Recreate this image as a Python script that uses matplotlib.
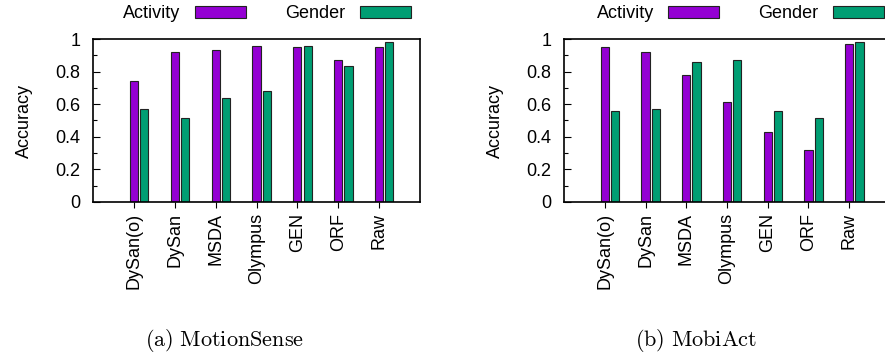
import numpy as np
import matplotlib
matplotlib.use("Agg")
import matplotlib.pyplot as plt

plt.rcParams['font.family'] = ['Liberation Sans', 'DejaVu Sans']
plt.rcParams['mathtext.fontset'] = 'cm'

methods = ["DySan(o)", "DySan", "MSDA", "Olympus", "GEN", "ORF", "Raw"]
series = ["Activity", "Gender"]

# MotionSense
ms_activity = [0.743, 0.920, 0.932, 0.959, 0.951, 0.871, 0.951]
ms_gender = [0.571, 0.515, 0.639, 0.682, 0.959, 0.832, 0.982]

# MobiAct
ma_activity = [0.951, 0.920, 0.778, 0.614, 0.429, 0.318, 0.971]
ma_gender = [0.561, 0.571, 0.860, 0.871, 0.561, 0.515, 0.984]

colors = ["#9400D3", "#009E73"]
fs = 13

fig = plt.figure(figsize=(8.85, 3.52), dpi=100)
ax1 = fig.add_axes([93 / 885, 150 / 352, 327 / 885, 163 / 352])
ax2 = fig.add_axes([564 / 885, 150 / 352, 326 / 885, 163 / 352])


def draw(ax, act, gen, legx):
    x = np.arange(1, len(methods) + 1)
    ax.bar(x, act, 0.2, color=colors[0], edgecolor="#222222", linewidth=0.8, label=series[0])
    ax.bar(x + 0.25, gen, 0.2, color=colors[1], edgecolor="#222222", linewidth=0.8, label=series[1])
    ax.set_xlim(0, 8)
    ax.set_ylim(0, 1)
    ax.set_xticks(x)
    ax.set_xticklabels(methods, rotation=90, fontsize=fs)
    ax.set_yticks(np.arange(0, 1.01, 0.2))
    ax.set_yticklabels(["0", "0.2", "0.4", "0.6", "0.8", "1"], fontsize=fs)
    ax.set_yticks(np.arange(0.1, 1, 0.2), minor=True)
    ax.tick_params(axis="y", which="major", direction="in", length=5, width=0.8, pad=9)
    ax.tick_params(axis="y", which="minor", direction="in", length=3, width=0.8)
    ax.tick_params(axis="x", direction="out", length=4, width=0.8, pad=4)
    for s in ax.spines.values():
        s.set_linewidth(1.2)
    ax.set_ylabel("Accuracy", fontsize=fs, labelpad=16)
    ax.legend(loc="center", bbox_to_anchor=(legx, 1.155), ncol=2, frameon=False,
              markerfirst=False, fontsize=fs, handlelength=2.8, handleheight=0.6,
              handletextpad=0.8, columnspacing=2.2, borderaxespad=0)


draw(ax1, ms_activity, ms_gender, 0.532)
draw(ax2, ma_activity, ma_gender, 0.54)

fig.text(225 / 885, 1 - 340 / 352, r"$\mathrm{(a)\ MotionSense}$", ha="center", va="center", fontsize=16)
fig.text(696 / 885, 1 - 340 / 352, r"$\mathrm{(b)\ MobiAct}$", ha="center", va="center", fontsize=16)

fig.savefig("out.png", dpi=100)
